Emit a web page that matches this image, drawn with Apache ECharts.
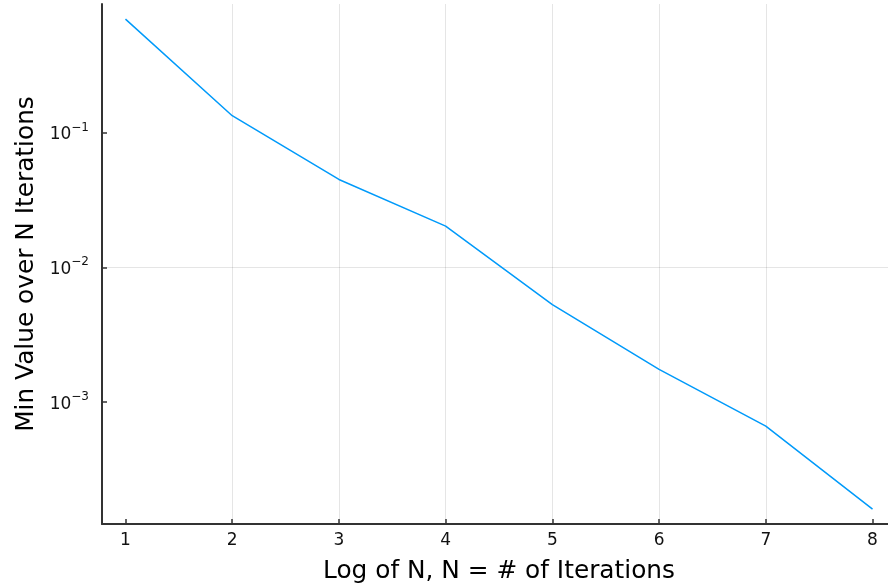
<!DOCTYPE html>
<html lang="en">
<head>
    <meta charset="UTF-8">
    <title>Min Value over N Iterations</title>
    <script src="https://cdn.jsdelivr.net/npm/echarts@6/dist/echarts.min.js"></script>
    <style>
        html, body { margin: 0; padding: 0; background: #fff; }
        #main { width: 888px; height: 586px; }
    </style>
</head>
<body>
    <div id="main"></div>

    <script>
        // data
        var logN = [1, 2, 3, 4, 5, 6, 7, 8];
        var minValues = [0.692, 0.133, 0.0448, 0.0202, 0.00528, 0.00175, 0.000664, 0.000161];
        var xTicks = [1, 2, 3, 4, 5, 6, 7, 8];
        var yTicks = [0.001, 0.01, 0.1];
        var yTickExp = { '0.001': '3', '0.01': '2', '0.1': '1' };

        var chart = echarts.init(document.getElementById('main'));
        var font = 'DejaVu Sans';

        var points = logN.map(function (x, i) { return [x, minValues[i]]; });

        chart.setOption({
            animation: false,
            grid: { left: 102, right: -8, top: 4, bottom: 62, outerBoundsMode: 'none', containLabel: false },
            xAxis: {
                type: 'value',
                min: 0.78,
                max: 8.22,
                name: 'Log of N, N = # of Iterations',
                nameLocation: 'middle',
                nameGap: 35,
                nameTextStyle: { fontFamily: font, fontSize: 24.8, color: '#000' },
                axisLine: { show: true, lineStyle: { color: '#333', width: 2 } },
                axisTick: { show: true, inside: true, length: 5, customValues: xTicks, lineStyle: { color: '#333', width: 1.5 } },
                axisLabel: { customValues: xTicks, fontFamily: font, fontSize: 17, color: '#111', margin: 8 },
                splitLine: { show: true, showMinLine: false, showMaxLine: false, lineStyle: { color: 'rgba(0,0,0,0.1)', width: 1 } }
            },
            yAxis: {
                type: 'log',
                logBase: 10,
                min: Math.pow(10, -3.903),
                max: Math.pow(10, -0.048),
                name: 'Min Value over N Iterations',
                nameLocation: 'middle',
                nameGap: 58,
                nameTextStyle: { fontFamily: font, fontSize: 24.8, color: '#000' },
                axisLine: { show: true, lineStyle: { color: '#333', width: 2 } },
                axisTick: { show: true, inside: true, length: 5, customValues: yTicks, lineStyle: { color: '#333', width: 1.5 } },
                axisLabel: {
                    customValues: yTicks,
                    margin: 13,
                    formatter: function (v) {
                        var key = String(+v.toPrecision(3));
                        return '{b|10}{s|−' + (yTickExp[key] || '') + '}';
                    },
                    rich: {
                        b: { fontFamily: font, fontSize: 17, color: '#111', lineHeight: 22, verticalAlign: 'bottom' },
                        s: { fontFamily: font, fontSize: 12, color: '#111', lineHeight: 14, verticalAlign: 'top' }
                    }
                },
                splitLine: { show: true, showMinLine: false, showMaxLine: false, lineStyle: { color: 'rgba(0,0,0,0.1)', width: 1 } }
            },
            series: [{
                type: 'line',
                data: points,
                showSymbol: false,
                lineStyle: { color: '#009AFA', width: 1.5 },
                itemStyle: { color: '#009AFA' }
            }]
        });
    </script>
</body>
</html>
